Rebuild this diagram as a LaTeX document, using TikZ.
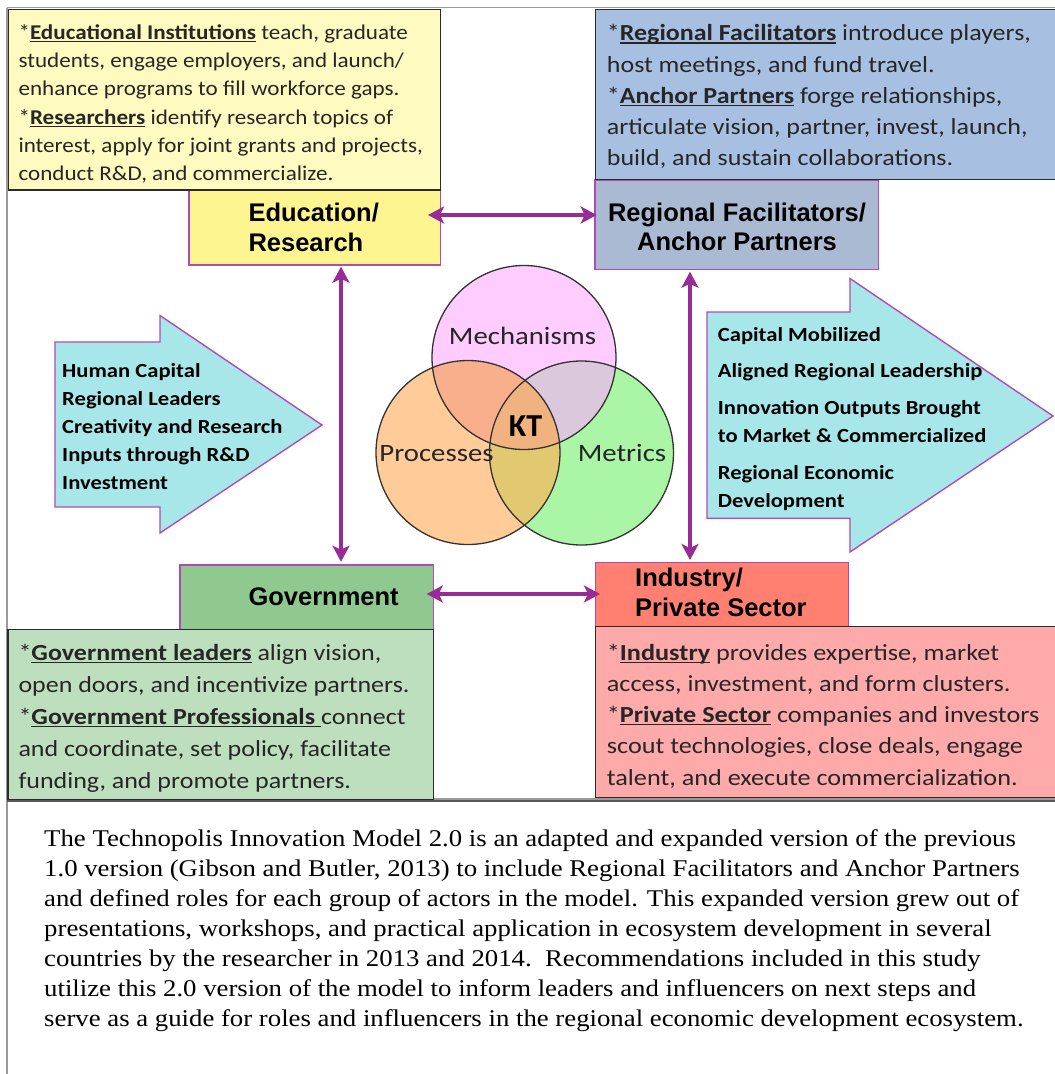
\documentclass[tikz,border=0pt]{standalone}
\usepackage{fontspec}
\setmainfont{Carlito}
\newfontfamily\headfont{Liberation Sans}
\newfontfamily\capfont{Liberation Serif}
\usetikzlibrary{arrows.meta,calc}

% palette
\definecolor{yelLt}{HTML}{FFFBC0}
\definecolor{yelHd}{HTML}{FFF590}
\definecolor{bluLt}{HTML}{A7C0E2}
\definecolor{bluHd}{HTML}{AABAD2}
\definecolor{grnLt}{HTML}{BEDFBE}
\definecolor{grnHd}{HTML}{8FC98F}
\definecolor{redLt}{HTML}{FFAAAA}
\definecolor{redHd}{HTML}{FF8070}
\definecolor{cyanArr}{HTML}{A8E7E9}
\definecolor{linkPurple}{HTML}{992B99}
\definecolor{edgePurple}{HTML}{B04CB0}
\definecolor{boxLine}{HTML}{2B2B2B}
\definecolor{textGray}{HTML}{262626}
\definecolor{frameGray}{HTML}{9A9A9A}
\definecolor{mechFill}{HTML}{FFCCFF}
\definecolor{procFill}{HTML}{FFCC99}
\definecolor{metrFill}{HTML}{AAF5A6}
\definecolor{mpFill}{HTML}{FAAF8C}
\definecolor{mmFill}{HTML}{DCC8DC}
\definecolor{pmFill}{HTML}{E2C870}
\definecolor{ktFill}{HTML}{F0B380}
\definecolor{vennLine}{HTML}{333333}

% underline with a heavier rule
\newsavebox\ulbox
\newcommand{\uln}[1]{\sbox\ulbox{#1}\makebox[0pt][l]{\rule[-2.6pt]{\wd\ulbox}{1.2pt}}\usebox\ulbox}

\begin{document}
\begin{tikzpicture}[x=1pt,y=-1pt,
  box/.style={rectangle, anchor=north west, inner sep=0pt, outer sep=0pt},
  descbox/.style={box, draw=boxLine, line width=1.4pt},
  headbox/.style={box, draw=edgePurple, line width=1.4pt},
  desctext/.style={anchor=north west, inner sep=0pt, align=left, text=textGray, xscale=1.1},
  headtext/.style={inner sep=0pt, align=left, font=\headfont\bfseries\fontsize{25.5}{30}\selectfont},
  arrowtext/.style={anchor=north west, inner sep=0pt, align=left, text=black, xscale=1.13, font=\bfseries\fontsize{20}{28}\selectfont},
  venntext/.style={inner sep=0pt, anchor=base, text=textGray, font=\fontsize{25}{30}\selectfont, xscale=1.15},
  flow/.style={fill=cyanArr, draw=edgePurple, line width=1.4pt, line join=miter},
  link/.style={draw=linkPurple, line width=4.5pt,
    {Stealth[length=16pt,width=17pt,inset=4pt]}-{Stealth[length=16pt,width=17pt,inset=4pt]}},
  frame/.style={draw=frameGray, line width=1.6pt}
]
\useasboundingbox (0,0) rectangle (1055,1074);
\fill[white] (0,0) rectangle (1055,1074);

% outer frame and separator above the caption
\draw[frame] (7,7.5) -- (1065,7.5);
\draw[frame] (7,7.5) -- (7,1080);
\draw[draw=frameGray, line width=4pt] (7,800) -- (1065,800);
\draw[draw=gray!70!black, line width=1.2pt] (7,801) -- (1065,801);

% actor boxes
\node[headbox, fill=yelHd, minimum width=251.7pt, minimum height=74.3pt] (eduH) at (189,190.7) {};
\node[headbox, fill=bluHd, minimum width=283.3pt, minimum height=89.3pt] (regH) at (595,180) {};
\node[headbox, fill=grnHd, minimum width=253.3pt, minimum height=64.3pt] (govH) at (180,565) {};
\node[headbox, fill=redHd, minimum width=252.6pt, minimum height=64pt] (indH) at (595.7,562.7) {};

% role descriptions
\node[descbox, fill=yelLt, minimum width=432.4pt, minimum height=180.7pt] (eduD) at (8.3,9.3) {};
\node[descbox, fill=bluLt, minimum width=470pt, minimum height=170pt] (regD) at (595.7,9.3) {};
\node[descbox, fill=grnLt, minimum width=425.3pt, minimum height=170pt] (govD) at (8,629.3) {};
\node[descbox, fill=redLt, minimum width=470pt, minimum height=170.6pt] (indD) at (595.7,626.7) {};

\node[desctext, font=\fontsize{21}{28.2}\selectfont] (eduDT) at (18.3,19.56) {\strut *\uln{\textbf{Educational Institutions}} teach, graduate\\
students, engage employers, and launch/\\
enhance programs to fill workforce gaps.\\
*\uln{\textbf{Researchers}} identify research topics of\\
interest, apply for joint grants and projects,\\
conduct R\&D, and commercialize.};

\node[desctext, xscale=1.13/1.1, font=\fontsize{23}{31.1}\selectfont] (regDT) at (606.7,18.93) {\strut *\uln{\textbf{Regional Facilitators}} introduce players,\\
host meetings, and fund travel.\\
*\uln{\textbf{Anchor Partners}} forge relationships,\\
articulate vision, partner, invest, launch,\\
build, and sustain collaborations.};

\node[desctext, xscale=1.13/1.1, font=\fontsize{23}{32.1}\selectfont] (govDT) at (18.3,637.5) {\strut *\uln{\textbf{Government leaders}} align vision,\\
open doors, and incentivize partners.\\
*\uln{\textbf{Government Professionals}\ }connect\\
and coordinate, set policy, facilitate\\
funding, and promote partners.};

\node[desctext, xscale=1.14/1.1, font=\fontsize{23}{31.25}\selectfont] (indDT) at (606.7,638.1) {\strut *\uln{\textbf{Industry}} provides expertise, market\\
access, investment, and form clusters.\\
*\uln{\textbf{Private Sector}} companies and investors\\
scout technologies, close deals, engage\\
talent, and execute commercialization.};

% actor titles
\node[headtext, anchor=north west] (eduT) at (248.3,200.7) {\strut Education/\\Research};
\node[headtext, anchor=north, align=center, font=\headfont\bfseries\fontsize{25.5}{28.5}\selectfont] (regT) at (737,201.75) {\strut Regional Facilitators/\\Anchor Partners};
\node[headtext, anchor=base west] (govT) at (248.3,605) {Government};
\node[headtext, anchor=north west] (indT) at (635,565.7) {\strut Industry/\\Private Sector};

% links between actors
\draw[link] ($(eduH.east)+(-12.7pt,12.85pt)$) -- ($(eduH.east -| regH.west)+(1.7pt,12.85pt)$);
\draw[link] ($(govH.east)+(-6.6pt,3.15pt)$) -- ($(govH.east -| indH.west)+(4.3pt,3.15pt)$);
\draw[link] ($(eduH.south)+(26.15pt,-1.7pt)$) -- ($(eduH.south |- govH.north)+(26.15pt,3.3pt)$);
\draw[link] ($(regH.south)+(-46.65pt,-2.4pt)$) -- ($(regH.south |- indH.north)+(-46.65pt,2.7pt)$);

% input and output arrows
\draw[flow] (55,342) -- (160,342) -- (160,315.5) -- (322,425) -- (160,533) -- (160,507) -- (55,507) -- cycle;
\draw[flow] (707,312) -- (850,312) -- (850,278.5) -- (1053,416) -- (850,552) -- (850,518.3) -- (707,518.3) -- cycle;

\node[arrowtext] (inT) at (62,357.4) {\strut Human Capital\\
Regional Leaders\\
Creativity and Research\\
Inputs through R\&D\\
Investment};

\node[arrowtext] (outT) at (717.7,321.4) {\strut Capital Mobilized\\[8pt]
Aligned Regional Leadership\\[9pt]
Innovation Outputs Brought\\
to Market \& Commercialized\\[9pt]
Regional Economic\\
Development};

% knowledge transfer Venn diagram
\coordinate (cMech) at (524,357.5);
\coordinate (cProc) at (468,452.5);
\coordinate (cMetr) at (581.5,453);
\fill[mechFill] (cMech) circle[radius=92pt];
\fill[metrFill] (cMetr) circle[radius=92pt];
\fill[procFill] (cProc) circle[radius=92pt];
\begin{scope}
  \clip (cMech) circle[radius=92pt];
  \fill[mpFill] (cProc) circle[radius=92pt];
  \fill[mmFill] (cMetr) circle[radius=92pt];
\end{scope}
\begin{scope}
  \clip (cProc) circle[radius=92pt];
  \fill[pmFill] (cMetr) circle[radius=92pt];
  \clip (cMetr) circle[radius=92pt];
  \fill[ktFill] (cMech) circle[radius=92pt];
\end{scope}
\draw[vennLine, line width=1.3pt] (cMech) circle[radius=92pt];
\draw[vennLine, line width=1.3pt] (cProc) circle[radius=92pt];
\draw[vennLine, line width=1.3pt] (cMetr) circle[radius=92pt];

\node[venntext] (mechT) at (522.5,344) {Mechanisms};
\node[venntext] (procT) at (436.5,461) {Processes};
\node[venntext] (metrT) at (622,461) {Metrics};
\node[inner sep=0pt, anchor=base, font=\bfseries\fontsize{32}{36}\selectfont] (ktT) at (525.5,436.7) {KT};

% caption
\node[anchor=north west, inner sep=0pt, align=left, xscale=1.115, font=\capfont\fontsize{24}{30}\selectfont] (capT) at (44,825) {\strut The Technopolis Innovation Model 2.0 is an adapted and expanded version of the previous\\
1.0 version (Gibson and Butler, 2013) to include Regional Facilitators and Anchor Partners\\
and defined roles for each group of actors in the model. This expanded version grew out of\\
presentations, workshops, and practical application in ecosystem development in several\\
countries by the researcher in 2013 and 2014.\ \ Recommendations included in this study\\
utilize this 2.0 version of the model to inform leaders and influencers on next steps and\\
serve as a guide for roles and influencers in the regional economic development ecosystem.};
\end{tikzpicture}
\end{document}
